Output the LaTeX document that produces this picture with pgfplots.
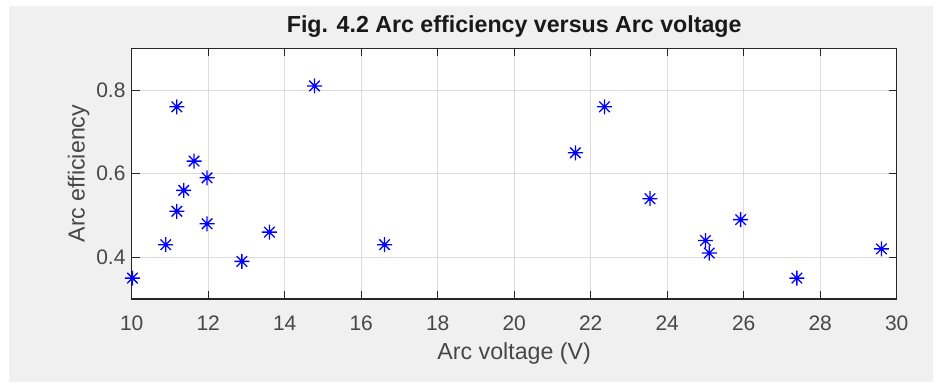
\documentclass[border=0pt]{standalone}
\usepackage{fontspec}
\setmainfont{Liberation Sans}
\usepackage{pgfplots}
\pgfplotsset{compat=1.18}
\definecolor{figgray}{HTML}{F0F0F0}
\definecolor{axgray}{HTML}{262626}
\definecolor{gridgray}{HTML}{DCDCDC}
\pgfdeclareplotmark{mstar}{%
  \pgfpathmoveto{\pgfqpoint{-\pgfplotmarksize}{0pt}}%
  \pgfpathlineto{\pgfqpoint{\pgfplotmarksize}{0pt}}%
  \pgfpathmoveto{\pgfqpoint{0pt}{-\pgfplotmarksize}}%
  \pgfpathlineto{\pgfqpoint{0pt}{\pgfplotmarksize}}%
  \pgfpathmoveto{\pgfqpoint{-0.7\pgfplotmarksize}{-0.7\pgfplotmarksize}}%
  \pgfpathlineto{\pgfqpoint{0.7\pgfplotmarksize}{0.7\pgfplotmarksize}}%
  \pgfpathmoveto{\pgfqpoint{-0.7\pgfplotmarksize}{0.7\pgfplotmarksize}}%
  \pgfpathlineto{\pgfqpoint{0.7\pgfplotmarksize}{-0.7\pgfplotmarksize}}%
  \pgfusepathqstroke}
\pgfplotstableread{
x y
10.02 0.35
11.18 0.76
10.89 0.43
11.18 0.51
11.36 0.56
11.63 0.63
11.97 0.59
11.97 0.48
12.88 0.39
13.60 0.46
14.78 0.81
16.61 0.43
21.60 0.65
22.36 0.76
23.55 0.54
25.00 0.44
25.10 0.41
25.92 0.49
27.39 0.35
29.60 0.42
}\datatable
\begin{document}
\begin{tikzpicture}[x=1pt,y=1pt]
\fill[white] (0,0) rectangle (945,383);
\fill[figgray] (9,1) rectangle (933,377);
\begin{axis}[
  at={(131.7pt,84pt)}, anchor=south west,
  scale only axis, width=765pt, height=250.7pt,
  xmin=10, xmax=30, ymin=0.3, ymax=0.9,
  xtick={10,12,...,30}, ytick={0.4,0.6,0.8},
  yticklabels={0.4,0.6,0.8},
  axis background/.style={fill=white},
  axis line style={axgray, line width=1.2pt},
  tick style={axgray, line width=1pt},
  tickpos=both, tick align=inside, major tick length=8pt,
  grid=major, major grid style={gridgray, line width=0.8pt},
  /pgf/number format/assume math mode=true,
  ticklabel style={font=\fontsize{21}{24}\selectfont, text=axgray!85},
  xticklabel style={anchor=base, yshift=-31pt, inner sep=0pt},
  yticklabel style={anchor=east, xshift=-6pt, inner sep=0pt},
  title={Fig. 4.2 Arc efficiency versus Arc voltage},
  title style={font=\bfseries\fontsize{23.2}{26}\selectfont, text=black!90,
    at={(axis description cs:0.5,1)}, anchor=base, yshift=9.3pt, inner sep=0pt},
  xlabel={Arc voltage (V)},
  xlabel style={font=\fontsize{23.2}{26}\selectfont, text=axgray!85,
    at={(axis description cs:0.5,0)}, anchor=base, yshift=-60pt, inner sep=0pt},
  ylabel={Arc efficiency},
  ylabel style={font=\fontsize{23.2}{26}\selectfont, text=axgray!85,
    at={(axis description cs:-0.0693,0.5)}, anchor=center, rotate=0, inner sep=0pt},
  clip=false,
]
\addplot[only marks, mark=mstar, mark size=7.5pt, color=blue, line width=1.3pt] table[x=x,y=y] {\datatable};
\end{axis}
\end{tikzpicture}
\end{document}
